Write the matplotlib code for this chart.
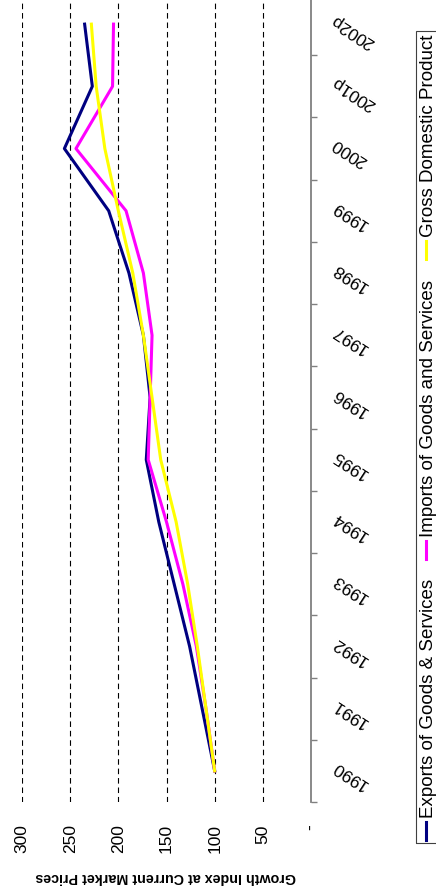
import numpy as np
import matplotlib.pyplot as plt
from matplotlib.lines import Line2D
from matplotlib.patches import Rectangle

plt.rcParams['font.family'] = ['Liberation Sans', 'DejaVu Sans']

# Data (growth index, 1990 = 100)
years = ['1990', '1991', '1992', '1993', '1994', '1995', '1996',
         '1997', '1998', '1999', '2000', '2001p', '2002p']
exports = [100, 113, 126, 142, 158, 171, 167, 174, 189, 210, 256, 227, 235]
imports = [100, 109, 119, 133, 150, 169, 167, 165, 174, 192, 244, 206, 205]
gdp = [100, 109, 118, 128, 140, 156, 165, 174, 185, 200, 214, 223, 228]

value_ticks = [0, 50, 100, 150, 200, 250, 300]
value_labels = ['-', '50', '100', '150', '200', '250', '300']
grid_values = [50, 100, 150, 200, 250, 300]

series_names = ['Exports of Goods & Services', 'Imports of Goods and Services',
                'Gross Domestic Product']
series_colors = ['#000080', '#FF00FF', '#FFFF00']

W, H = 436, 894
fig = plt.figure(figsize=(W / 100, H / 100), dpi=100)

# chart is drawn turned on its side: values run right-to-left, years bottom-to-top
ax = fig.add_axes([22 / W, (H - 802) / H, (311 - 22) / W, 809 / H])
ax.set_xlim(300, 0)
ax.set_ylim(-0.5, len(years) - 0.5)

pos = np.arange(len(years))
for vals, col in zip([exports, imports, gdp], series_colors):
    ax.plot(vals, pos, color=col, lw=2.2, zorder=3)

for g in grid_values:
    ax.axvline(g, color='black', lw=0.8, ls=(0, (5, 3.5)), zorder=1)

for s in ['top', 'bottom', 'left']:
    ax.spines[s].set_visible(False)
ax.spines['right'].set_color('#808080')
ax.spines['right'].set_linewidth(1.3)

ax.set_xticks(value_ticks)
ax.set_xticklabels(value_labels, rotation=90, fontsize=12.5)
ax.tick_params(axis='x', length=0, pad=16)

ax.yaxis.tick_right()
ax.set_yticks(np.arange(len(years) + 1) - 0.5)
ax.set_yticklabels([])
ax.set_yticks(pos, minor=True)
ax.set_yticklabels(years, minor=True, rotation=147, rotation_mode='anchor',
                   ha='right', va='top', fontsize=12.5)
ax.tick_params(axis='y', which='major', length=4.5, color='#808080', width=1)
ax.tick_params(axis='y', which='minor', length=0, pad=13)

fig.text(166 / W, 1 - 877 / H, 'Growth Index at Current Market Prices',
         rotation=180, ha='center', va='center', fontsize=10.3, fontweight='bold')

# legend along the right edge, entries read bottom to top
lx0, lx1, ly0, ly1 = 416, 440, 31, 843
fig.patches.append(Rectangle((lx0 / W, 1 - ly1 / H), (lx1 - lx0) / W, (ly1 - ly0) / H,
                             transform=fig.transFigure, fill=False,
                             edgecolor='#404040', lw=0.8))
renderer = fig.canvas.get_renderer()
texts = [fig.text(428 / W, 0, n, rotation=90, ha='center', va='bottom', fontsize=13.5)
         for n in series_names]
lengths = [t.get_window_extent(renderer).height for t in texts]
start, end = H - 840, H - 35      # first marker bottom, last text top (display px)
mark, sep = 18, 4
gap = (end - start - sum(lengths) - len(texts) * (mark + sep)) / (len(texts) - 1)
cur = start
for t, col, ln in zip(texts, series_colors, lengths):
    fig.add_artist(Line2D([426 / W, 426 / W], [cur / H, (cur + mark) / H],
                          transform=fig.transFigure, color=col, lw=2.2))
    t.set_y((cur + mark + sep) / H)
    cur += mark + sep + ln + gap

fig.savefig('out.png', dpi=100)
